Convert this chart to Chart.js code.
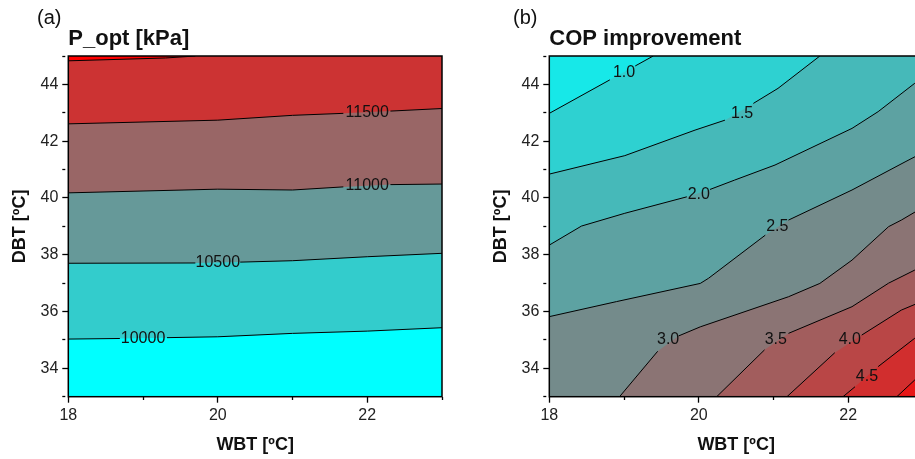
<!DOCTYPE html>
<html>
<head>
<meta charset="utf-8">
<script src="https://cdn.jsdelivr.net/npm/chart.js@4.4.0/dist/chart.umd.min.js"></script>
<style>
html, body { margin: 0; padding: 0; overflow: hidden; background: #fff; width: 915px; height: 459px; }
.panel { position: absolute; top: 0; width: 455px; height: 459px; }
.tag { position: absolute; top: 6px; font: 20px "Liberation Sans", Arial, sans-serif; color: #111; }
</style>
</head>
<body>
<div class="panel" style="left:0"><canvas id="chartA"></canvas></div>
<div class="panel" style="left:481px"><canvas id="chartB"></canvas></div>
<div class="tag" style="left:37px">(a)</div>
<div class="tag" style="left:513px">(b)</div>
<script>
// axis ranges (WBT on x, DBT on y)
const wbtRange = [18, 23];
const dbtRange = [33, 45];

// (a) P_opt [kPa] - contour lines, null = gap for the label
const pLevels = [10000, 10500, 11000, 11500, 12000];
const pContours = [
    [[18, 35.03], [18.69, 35.05], null, [19.32, 35.08], [20, 35.11], [21, 35.23], [22, 35.31], [23, 35.43]],
    [[18, 37.70], [19.7, 37.71], null, [20.3, 37.74], [21, 37.79], [22, 37.93], [23, 38.05]],
    [[18, 40.18], [20, 40.31], [21, 40.28], [21.68, 40.39], null, [22.31, 40.47], [23, 40.49]],
    [[18, 42.61], [20, 42.74], [21, 42.91], [21.68, 42.98], null, [22.31, 43.06], [23, 43.15]],
    [[18, 44.83], [19.3, 44.93], [19.7, 45]]
];
const pLabelPos = [[19.0, 35.05], [20.0, 37.71], [22.0, 40.43], [22.0, 43.0], null];

// (b) COP improvement
const copLevels = [1.0, 1.5, 2.0, 2.5, 3.0, 3.5, 4.0, 4.5, 5.0];
const copContours = [
    [[18, 42.98], [18.81, 44.16], null, [19.15, 44.65], [19.39, 45]],
    [[18, 40.84], [19.01, 41.49], [19.95, 42.39], [20.35, 42.74], null, [20.73, 43.33], [21.06, 43.86], [21.62, 45]],
    [[18, 38.34], [18.43, 39.01], [19.01, 39.46], [19.84, 40.04], null, [20.15, 40.30], [20.48, 40.63], [21.02, 41.16], [22.05, 42.45], [22.40, 43.04], [22.89, 44.04], [23, 44.26]],
    [[18, 35.82], [18.90, 36.35], [20.02, 36.99], [20.13, 37.17], [20.89, 38.69], null, [21.20, 39.22], [22.05, 40.28], [22.76, 41.27], [23, 41.6]],
    [[18.94, 33], [19.45, 34.6], null, [19.73, 35.14], [20.02, 35.46], [21.20, 36.52], [21.62, 36.99], [22.05, 37.81], [22.54, 38.99], [22.71, 39.22], [23, 39.67]],
    [[20.24, 33], [20.88, 34.65], null, [21.2, 35.23], [22.05, 36.17], [22.54, 37.0], [22.89, 37.46], [23, 37.6]],
    [[21.18, 33], [21.82, 34.55], null, [22.18, 35.17], [22.71, 36.05], [23, 36.37]],
    [[21.93, 33], [22.09, 33.35], null, [22.40, 34.06], [22.89, 35.06], [23, 35.3]],
    [[22.65, 33], [22.89, 33.59], [23, 33.85]]
];
const copLabelPos = [[19.0, 44.42], [20.58, 42.98], [20.0, 40.13], [21.05, 38.99], [19.59, 35.0], [21.03, 35.0], [22.02, 35.0], [22.25, 33.70], null];

const FONT = '"Liberation Sans", Arial, sans-serif';

// cyan -> red colour map
function mapColor(i, steps) {
    const t = i / steps;
    const r = Math.round(255 * t), g = Math.round(255 * (1 - t));
    return 'rgb(' + r + ',' + g + ',' + g + ')';
}

// position of a point along the frame, clockwise from the top-left corner
function perim(p) {
    const [x0, x1] = wbtRange, [y0, y1] = dbtRange;
    const w = x1 - x0, h = y1 - y0;
    const eps = 1e-6;
    if (Math.abs(p[1] - y1) < eps) return p[0] - x0;
    if (Math.abs(p[0] - x1) < eps) return w + (y1 - p[1]);
    if (Math.abs(p[1] - y0) < eps) return w + h + (x1 - p[0]);
    return 2 * w + h + (p[1] - y0);
}

// close a contour into the region on its high side by walking the frame
function cerrarRegion(line, clockwise) {
    const [x0, x1] = wbtRange, [y0, y1] = dbtRange;
    const total = 2 * ((x1 - x0) + (y1 - y0));
    const pts = line.filter(p => p);
    const tEnd = perim(pts[pts.length - 1]);
    const tStart = perim(pts[0]);
    const dist = t => clockwise ? (t - tEnd + total) % total : (tEnd - t + total) % total;
    const span = dist(tStart);
    const esquinas = [[x0, y1], [x1, y1], [x1, y0], [x0, y0]]
        .map(c => ({ c, d: dist(perim(c)) }))
        .filter(o => o.d > 0 && o.d < span)
        .sort((a, b) => a.d - b.d);
    return pts.map(p => ({ x: p[0], y: p[1] })).concat(esquinas.map(o => ({ x: o.c[0], y: o.c[1] })));
}

const fondoPlugin = {
    id: 'fondo',
    beforeDatasetsDraw(chart, args, opts) {
        const a = chart.chartArea, ctx = chart.ctx;
        ctx.save();
        ctx.fillStyle = opts.color;
        ctx.fillRect(a.left, a.top, a.right - a.left, a.bottom - a.top);
        ctx.restore();
    },
    afterDraw(chart) {
        const a = chart.chartArea, ctx = chart.ctx;
        ctx.save();
        ctx.strokeStyle = '#000';
        ctx.lineWidth = 1.5;
        ctx.strokeRect(a.left, a.top, a.right - a.left, a.bottom - a.top);
        ctx.restore();
    }
};

const etiquetasPlugin = {
    id: 'etiquetas',
    afterDatasetsDraw(chart, args, opts) {
        const ctx = chart.ctx, sx = chart.scales.x, sy = chart.scales.y;
        ctx.save();
        ctx.font = '16px ' + FONT;
        ctx.fillStyle = '#111';
        ctx.textAlign = 'center';
        ctx.textBaseline = 'middle';
        opts.items.forEach(it => {
            ctx.fillText(it.text, sx.getPixelForValue(it.x), sy.getPixelForValue(it.y));
        });
        ctx.restore();
    }
};

function crearGrafico(id, titulo, levels, contours, labelPos, fmt, steps, offset, clockwise) {
    const datasets = [];
    levels.forEach((lv, i) => {
        datasets.push({
            data: cerrarRegion(contours[i], clockwise),
            fill: 'shape',
            backgroundColor: mapColor(i + 1 + offset, steps),
            borderWidth: 0,
            pointRadius: 0,
            order: 100 - i
        });
    });
    contours.forEach(c => {
        datasets.push({
            data: c.map(p => p ? { x: p[0], y: p[1] } : { x: null, y: null }),
            fill: false,
            borderColor: '#000',
            borderWidth: 1,
            pointRadius: 0,
            spanGaps: false,
            order: 0
        });
    });
    const items = [];
    levels.forEach((lv, i) => {
        if (labelPos[i]) items.push({ x: labelPos[i][0], y: labelPos[i][1], text: fmt(lv) });
    });

    const tickDash = ctx => (ctx.tick && ctx.tick.value % 2 !== 0) ? [3, 30] : [];
    const tickCfg = {
        stepSize: 1, autoSkip: false, maxRotation: 0, color: '#222',
        font: { family: FONT, size: 16 },
        callback: v => v % 2 === 0 ? String(v) : ''
    };

    return new Chart(document.getElementById(id).getContext('2d'), {
        type: 'line',
        data: { datasets },
        options: {
            responsive: true,
            maintainAspectRatio: false,
            animation: false,
            events: [],
            layout: { padding: { top: 26, right: 13, bottom: 0, left: 0 } },
            plugins: {
                legend: { display: false },
                tooltip: { enabled: false },
                title: {
                    display: true, text: titulo, align: 'start', fullSize: false,
                    color: '#111', font: { family: FONT, size: 22, weight: 'bold' },
                    padding: { top: 0, bottom: 3.6 }
                },
                fondo: { color: mapColor(offset, steps) },
                etiquetas: { items }
            },
            scales: {
                x: {
                    type: 'linear', min: wbtRange[0], max: wbtRange[1],
                    ticks: Object.assign({ padding: 3 }, tickCfg),
                    grid: { drawOnChartArea: false, tickLength: 6, tickColor: '#000', tickWidth: 1.3, tickBorderDash: tickDash },
                    border: { display: false },
                    title: { display: true, text: 'WBT [ºC]', color: '#111', font: { family: FONT, size: 18, weight: 'bold' }, padding: { top: 0, bottom: 3.2 } },
                    afterFit: s => { s.height = 62.3; }
                },
                y: {
                    type: 'linear', min: dbtRange[0], max: dbtRange[1],
                    ticks: Object.assign({ padding: 4 }, tickCfg),
                    grid: { drawOnChartArea: false, tickLength: 6, tickColor: '#000', tickWidth: 1.3, tickBorderDash: tickDash },
                    border: { display: false },
                    title: { display: true, text: 'DBT [ºC]', color: '#111', font: { family: FONT, size: 18, weight: 'bold' }, padding: { top: 9.2, bottom: 0 } },
                    afterFit: s => { s.width = 68.3; }
                }
            }
        },
        plugins: [fondoPlugin, etiquetasPlugin]
    });
}

crearGrafico('chartA', 'P_opt [kPa]', pLevels, pContours, pLabelPos, v => String(v), 5, 0, false);
crearGrafico('chartB', 'COP improvement', copLevels, copContours, copLabelPos, v => v.toFixed(1), 11, 1, true);
</script>
</body>
</html>
